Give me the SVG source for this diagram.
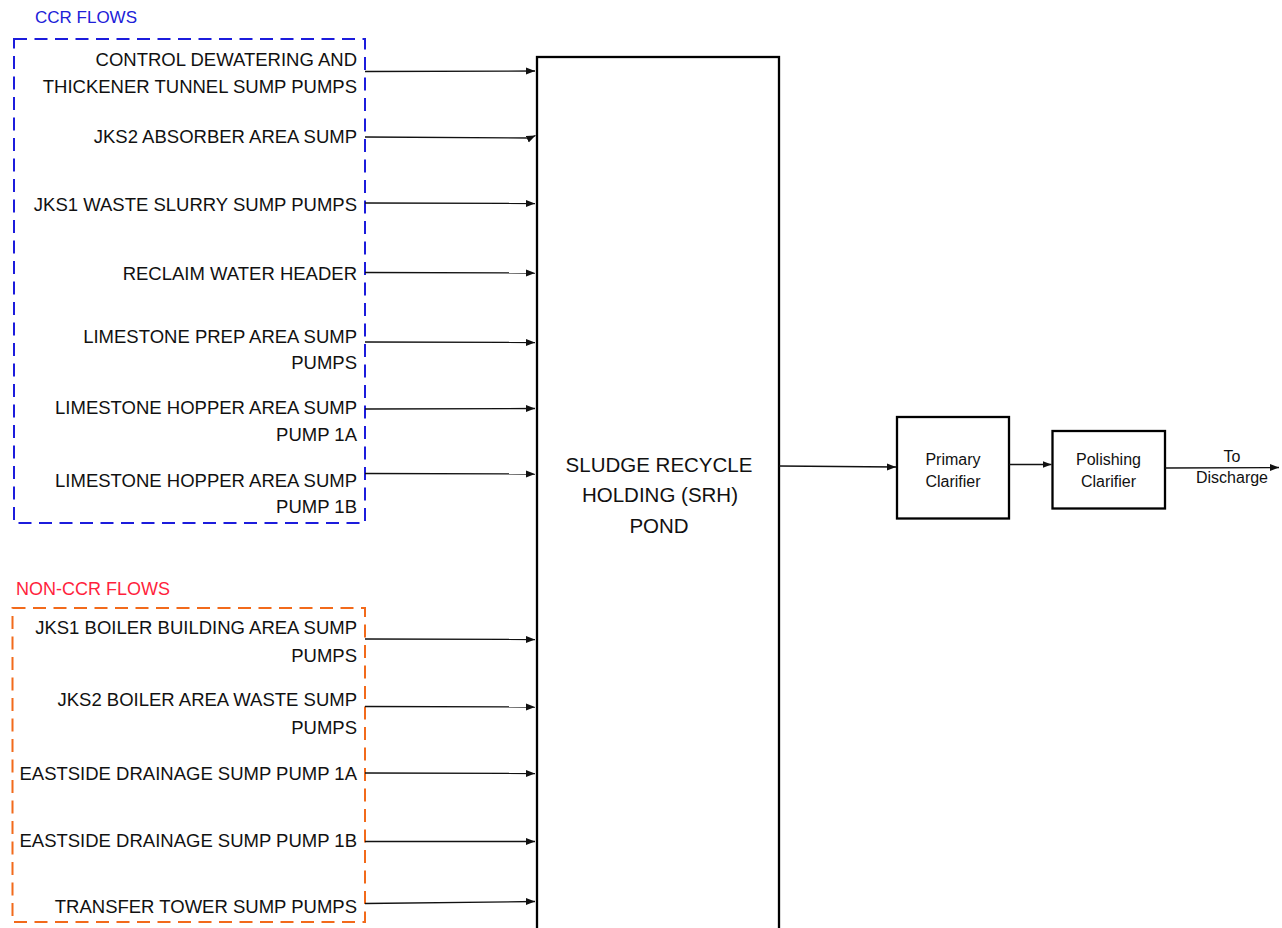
<svg xmlns="http://www.w3.org/2000/svg" width="1282" height="928" viewBox="0 0 1282 928">
<defs>
<style>
text{font-family:"Liberation Sans",Arial,sans-serif;fill:#111}
.lbl{font-size:18.5px;text-anchor:end}
.hdr{font-size:17px}
.big{font-size:20.5px;text-anchor:middle}
.sm{font-size:16px;text-anchor:middle}
.conn{fill:none;stroke:#111;stroke-width:1.3;marker-end:url(#ah)}
.box{fill:#fff;stroke:#000;stroke-width:2.3}
</style>
<marker id="ah" markerUnits="userSpaceOnUse" markerWidth="10" markerHeight="8" refX="9" refY="4" orient="auto">
<path d="M0,0.5 L9,4 L0,7.5 Z" fill="#111"/>
</marker>
</defs>
<rect width="1282" height="928" fill="#fff"/>

<g id="ccr-group">
<text class="hdr" x="35" y="23" style="fill:#2020d8">CCR FLOWS</text>
<rect x="14" y="39" width="351" height="484" fill="none" stroke="#1c1cdc" stroke-width="2" stroke-dasharray="13 7.5"/>
</g>
<g id="n1"><text class="lbl" x="357" y="66">CONTROL DEWATERING AND</text><text class="lbl" x="357" y="92.5">THICKENER TUNNEL SUMP PUMPS</text></g>
<g id="n2"><text class="lbl" x="357" y="143">JKS2 ABSORBER AREA SUMP</text></g>
<g id="n3"><text class="lbl" x="357" y="210.5">JKS1 WASTE SLURRY SUMP PUMPS</text></g>
<g id="n4"><text class="lbl" x="357" y="280">RECLAIM WATER HEADER</text></g>
<g id="n5"><text class="lbl" x="357" y="342.5">LIMESTONE PREP AREA SUMP</text><text class="lbl" x="357" y="369">PUMPS</text></g>
<g id="n6"><text class="lbl" x="357" y="414">LIMESTONE HOPPER AREA SUMP</text><text class="lbl" x="357" y="441">PUMP 1A</text></g>
<g id="n7"><text class="lbl" x="357" y="486.5">LIMESTONE HOPPER AREA SUMP</text><text class="lbl" x="357" y="513">PUMP 1B</text></g>

<g id="nonccr-group">
<text class="hdr" x="16" y="594.5" style="fill:#ff1f3d;font-size:18px">NON-CCR FLOWS</text>
<rect x="12.5" y="608" width="352.5" height="314" fill="none" stroke="#f26a1b" stroke-width="2" stroke-dasharray="13 7.5"/>
</g>
<g id="n8"><text class="lbl" x="357" y="634">JKS1 BOILER BUILDING AREA SUMP</text><text class="lbl" x="357" y="661.5">PUMPS</text></g>
<g id="n9"><text class="lbl" x="357" y="706">JKS2 BOILER AREA WASTE SUMP</text><text class="lbl" x="357" y="733.5">PUMPS</text></g>
<g id="n10"><text class="lbl" x="357" y="780">EASTSIDE DRAINAGE SUMP PUMP 1A</text></g>
<g id="n11"><text class="lbl" x="357" y="847">EASTSIDE DRAINAGE SUMP PUMP 1B</text></g>
<g id="n12"><text class="lbl" x="357" y="912.5">TRANSFER TOWER SUMP PUMPS</text></g>

<g id="srh">
<rect class="box" x="537" y="57" width="242" height="900" stroke-width="2.5"/>
<text class="big" x="659" y="471.5">SLUDGE RECYCLE</text>
<text class="big" x="660" y="502">HOLDING (SRH)</text>
<text class="big" x="659" y="532.5">POND</text>
</g>

<g id="primary">
<rect class="box" x="897" y="417" width="112" height="101.5" stroke-width="2"/>
<text class="sm" x="953" y="465">Primary</text>
<text class="sm" x="953" y="487">Clarifier</text>
</g>

<g id="polishing">
<rect class="box" x="1052.5" y="431" width="112.5" height="77.5" stroke-width="2"/>
<text class="sm" x="1108.5" y="465">Polishing</text>
<text class="sm" x="1108.5" y="487">Clarifier</text>
</g>

<g id="discharge">
<text class="sm" x="1232" y="462">To</text>
<text class="sm" x="1232" y="483">Discharge</text>
</g>

<g id="connectors">
<path class="conn" d="M365,71.5 L535,71"/>
<path class="conn" d="M365,137 L530,138 L535.5,135.5"/>
<path class="conn" d="M365,203 L535,203.5"/>
<path class="conn" d="M365,272.5 L535,273"/>
<path class="conn" d="M365,342 L535,342.5"/>
<path class="conn" d="M365,409 L535,408.5"/>
<path class="conn" d="M365,473.5 L535,474"/>
<path class="conn" d="M365,639 L535,639.5"/>
<path class="conn" d="M365,706.5 L535,707"/>
<path class="conn" d="M365,773 L535,773.5"/>
<path class="conn" d="M365,841.5 L535,841.5"/>
<path class="conn" d="M365,903.5 L535,901.5"/>
<path class="conn" d="M779,466 L896,467"/>
<path class="conn" d="M1009,464.5 L1051.5,464.5"/>
<path class="conn" d="M1165,468 L1279,467.5"/>
</g>
</svg>
